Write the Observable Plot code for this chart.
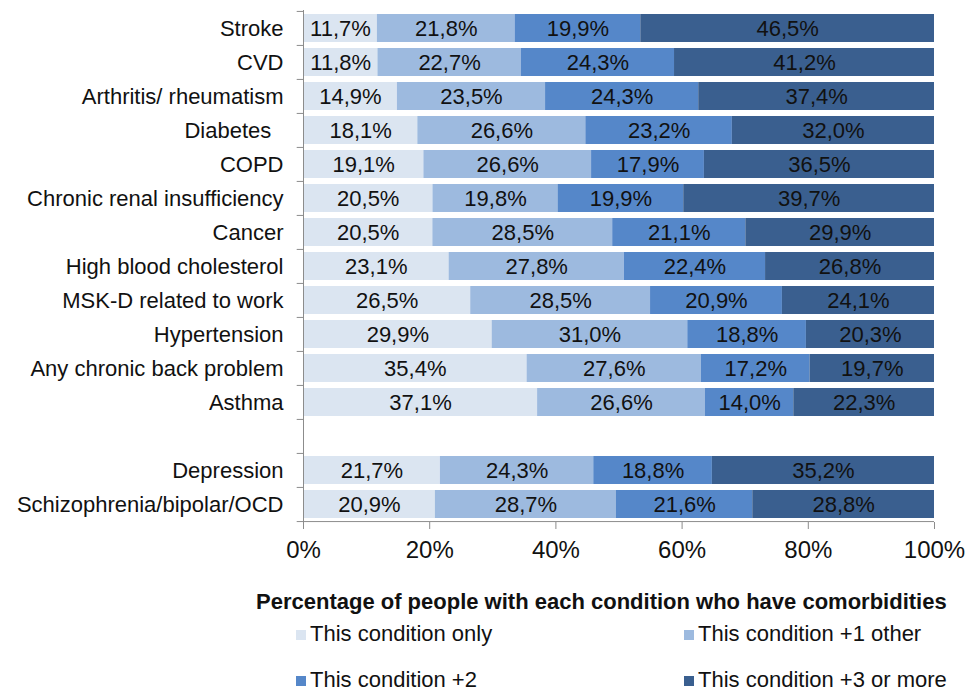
<!DOCTYPE html>
<html>
<head>
<meta charset="utf-8">
<script src="https://cdn.jsdelivr.net/npm/d3@7"></script>
<script src="https://cdn.jsdelivr.net/npm/@observablehq/plot@0.6"></script>
<style>
  html, body { margin: 0; padding: 0; background: #fff; }
  #wrap { position: relative; width: 979px; height: 692px; font-family: "Liberation Sans", Arial, sans-serif; color: #111; }
  #chart { position: absolute; left: 0; top: 0; }
  .title { position: absolute; top: 589px; left: 256px; font-weight: bold; font-size: 22px; white-space: nowrap; line-height: 26px; }
  .leg { position: absolute; font-size: 22px; white-space: nowrap; line-height: 26px; }
  .leg i { display: inline-block; width: 10px; height: 10px; margin-right: 4px; vertical-align: 1px; }
</style>
</head>
<body>
<div id="wrap">
  <div id="chart"></div>
  <div class="title" id="title"></div>
  <div id="legend"></div>
</div>
<script>
const categories = ["Stroke", "CVD", "Arthritis/ rheumatism", "Diabetes\u00a0\u00a0", "COPD",
  "Chronic renal insufficiency", "Cancer", "High blood cholesterol", "MSK-D related to work",
  "Hypertension", "Any chronic back problem", "Asthma", "Depression", "Schizophrenia/bipolar/OCD"];
const spacer = " ";
const rowOrder = [...categories.slice(0, 12), spacer, ...categories.slice(12)];
const seriesNames = ["This condition only", "This condition +1 other", "This condition +2", "This condition +3 or more"];
const conditionOnly = [11.7, 11.8, 14.9, 18.1, 19.1, 20.5, 20.5, 23.1, 26.5, 29.9, 35.4, 37.1, 21.7, 20.9];
const plusOne = [21.8, 22.7, 23.5, 26.6, 26.6, 19.8, 28.5, 27.8, 28.5, 31.0, 27.6, 26.6, 24.3, 28.7];
const plusTwo = [19.9, 24.3, 24.3, 23.2, 17.9, 19.9, 21.1, 22.4, 20.9, 18.8, 17.2, 14.0, 18.8, 21.6];
const plusThree = [46.5, 41.2, 37.4, 32.0, 36.5, 39.7, 29.9, 26.8, 24.1, 20.3, 19.7, 22.3, 35.2, 28.8];
const xTicks = [0, 0.2, 0.4, 0.6, 0.8, 1];
const colors = ["#dbe5f1", "#9dbadf", "#5587c9", "#3a5f8f"];
const titleText = "Percentage of people with each condition who have comorbidities";

const seriesValues = [conditionOnly, plusOne, plusTwo, plusThree];
const rows = [];
categories.forEach((c, i) => {
  seriesNames.forEach((s, j) => rows.push({cat: c, series: s, value: seriesValues[j][i]}));
});

const W = 979, H = 575, mTop = 10, mBottom = 53;
const step = (H - mTop - mBottom) / rowOrder.length;
const fmt = v => v.toFixed(1).replace(".", ",") + "%";
const axisColor = "#8c8c8c";

const plot = Plot.plot({
  width: W, height: H,
  marginLeft: 303, marginRight: 45, marginTop: mTop, marginBottom: mBottom,
  style: {fontFamily: "Liberation Sans, Arial, sans-serif", color: "#111", background: "#fff"},
  x: {domain: [0, 1], label: null},
  y: {domain: rowOrder, paddingInner: 0.18, paddingOuter: 0.09, label: null},
  color: {domain: seriesNames, range: colors},
  marks: [
    Plot.barX(rows, Plot.stackX({offset: "normalize", x: "value", y: "cat", fill: "series", order: null})),
    Plot.text(rows, Plot.stackX({offset: "normalize", x: "value", y: "cat", z: "series", order: null,
      text: d => fmt(d.value), fontSize: 22, fill: "#111"})),
    Plot.ruleX([0], {stroke: axisColor}),
    Plot.ruleY([rowOrder[rowOrder.length - 1]], {dy: step / 2, stroke: axisColor}),
    Plot.ruleY(rowOrder, {x1: -0.01, x2: 0, dy: -step / 2, stroke: axisColor}),
    Plot.ruleY([rowOrder[rowOrder.length - 1]], {x1: -0.01, x2: 0, dy: step / 2, stroke: axisColor}),
    Plot.axisY({tickSize: 0, tickPadding: 20, fontSize: 22, fill: "#111", label: null}),
    Plot.axisX({ticks: xTicks, tickFormat: d => Math.round(d * 100) + "%", tickSize: 7, tickPadding: 11,
      fontSize: 24, stroke: axisColor, fill: "#111", label: null})
  ]
});
document.getElementById("chart").appendChild(plot);

document.getElementById("title").textContent = titleText;
const legendPos = [[296, 621], [684, 621], [296, 667], [684, 667]];
const legend = document.getElementById("legend");
seriesNames.forEach((s, i) => {
  const d = document.createElement("div");
  d.className = "leg";
  d.style.left = legendPos[i][0] + "px";
  d.style.top = legendPos[i][1] + "px";
  const sw = document.createElement("i");
  sw.style.background = colors[i];
  d.appendChild(sw);
  d.appendChild(document.createTextNode(s));
  legend.appendChild(d);
});
</script>
</body>
</html>
